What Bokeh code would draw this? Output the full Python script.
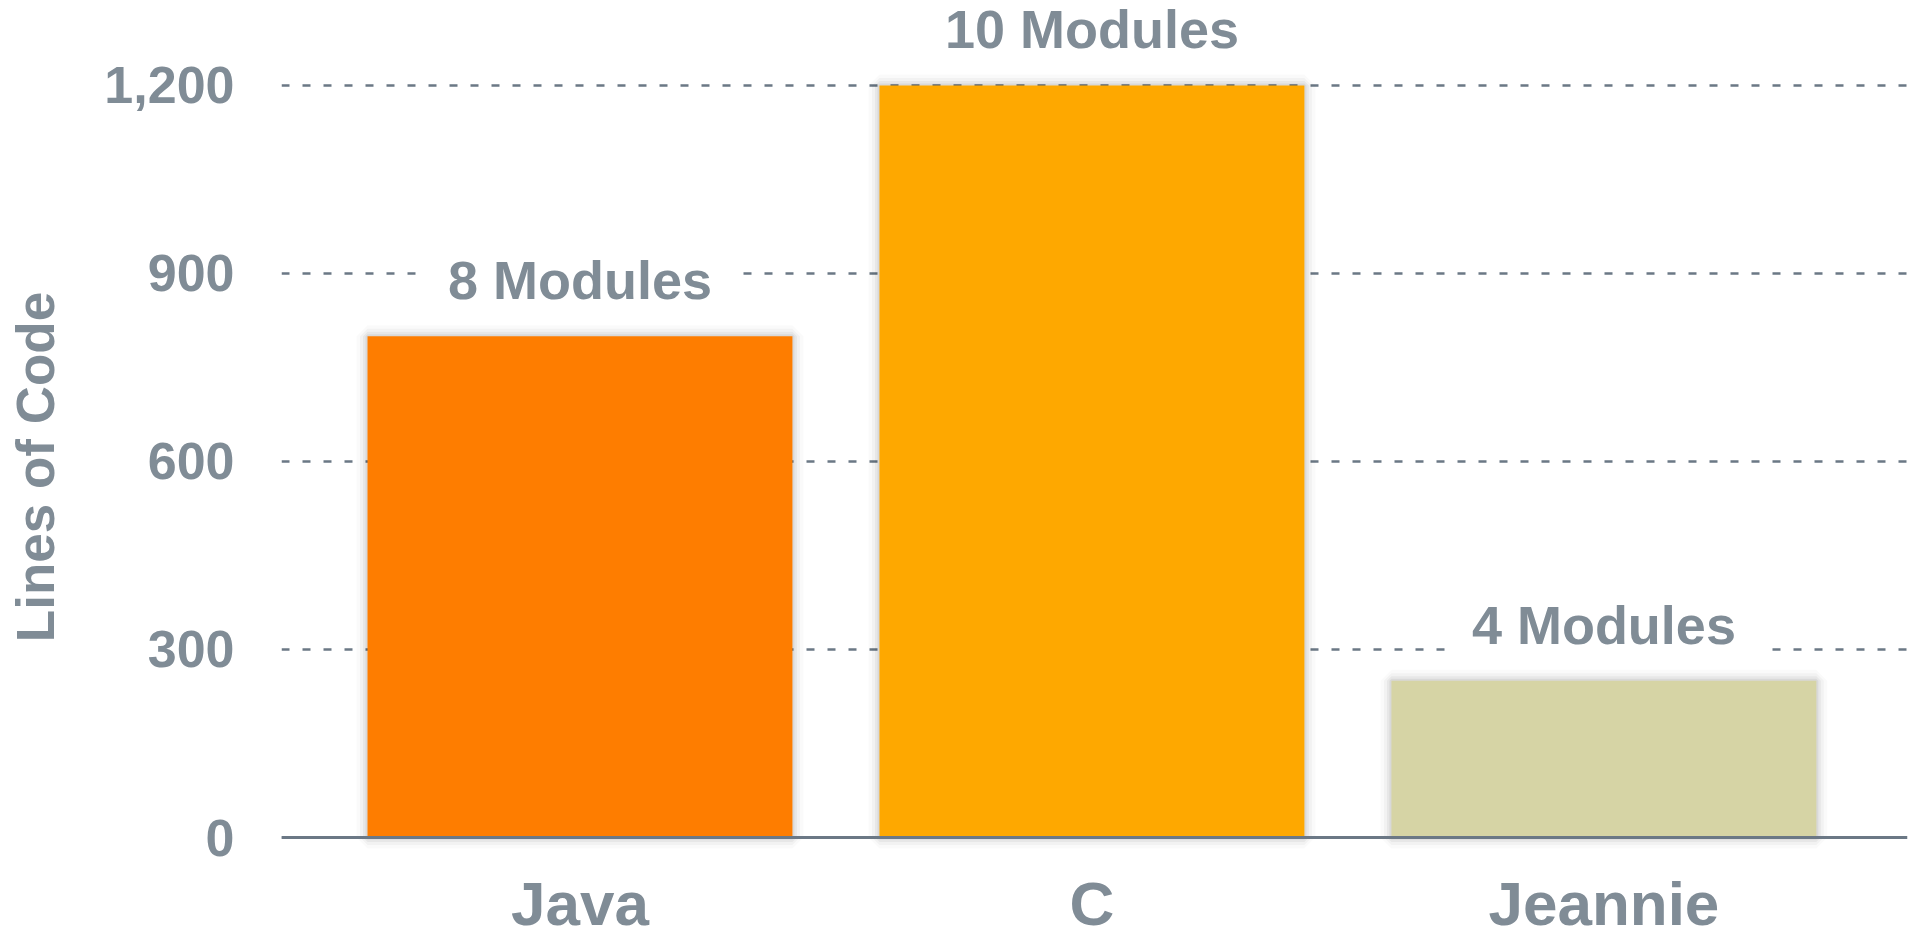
from bokeh.plotting import figure
from bokeh.models import (Range1d, FixedTicker, NumeralTickFormatter,
                          ColumnDataSource, Span)
from bokeh.core.properties import value
from bokeh.embed import file_html
from bokeh.resources import INLINE

# ---- data ----
categories = ["Java", "C", "Jeannie"]
lines_of_code = [800, 1200, 250]
module_labels = ["8 Modules", "10 Modules", "4 Modules"]
bar_colors = ["#FE7D00", "#FEA800", "#D6D4A5"]
y_ticks = [0, 300, 600, 900, 1200]

TEXT = "#808C96"
LINE = "#6B7885"
FONT = "Liberation Sans"

xs = list(range(len(categories)))
src = ColumnDataSource(dict(x=xs, top=lines_of_code, label=module_labels,
                            color=bar_colors, cat=categories,
                            base=[0] * len(categories)))

p = figure(width=1917, height=928, output_backend="svg", toolbar_location=None,
           x_range=Range1d(-0.583, 2.593), y_range=Range1d(-145.2, 1327.6),
           min_border_left=281, min_border_right=10, min_border_top=5,
           min_border_bottom=0)
p.outline_line_color = None
p.background_fill_color = "white"
p.border_fill_color = "white"

# soft shadow behind bars
for lw, a in [(22, 0.02), (15, 0.03), (9, 0.045), (4, 0.06)]:
    p.vbar(x="x", top="top", bottom=0, width=0.83, source=src,
           fill_color=None, line_color="black", line_alpha=a, line_width=lw)

p.vbar(x="x", top="top", bottom=0, width=0.83, source=src,
       fill_color="color", line_color=None)

# baseline (x axis line at zero)
p.add_layout(Span(location=0, dimension="width", line_color=LINE,
                  line_width=3))

# module labels (white box interrupts the grid lines)
p.text(x="x", y="top", text="label", source=src,
       text_align="center", text_baseline="alphabetic",
       y_offset=-56, text_font=value(FONT), text_font_style="bold",
       text_font_size="54px", text_color=TEXT,
       background_fill_color="white",
       padding=dict(left=26, right=26, top=0, bottom=0))

# category labels under the zero line
p.text(x="x", y="base", text="cat", source=src,
       text_align="center", text_baseline="alphabetic",
       y_offset=66, text_font=value(FONT), text_font_style="bold",
       text_font_size="62px", text_color=TEXT)

# y axis
p.yaxis.ticker = FixedTicker(ticks=y_ticks)
p.yaxis.formatter = NumeralTickFormatter(format="0,0")
p.yaxis.axis_line_color = None
p.yaxis.major_tick_line_color = None
p.yaxis.minor_tick_line_color = None
p.yaxis.major_label_standoff = 41
p.yaxis.major_label_text_font = FONT
p.yaxis.major_label_text_font_style = "bold"
p.yaxis.major_label_text_font_size = "52px"
p.yaxis.major_label_text_color = TEXT
p.yaxis.axis_label = "Lines of Code"
p.yaxis.axis_label_standoff = 36
p.yaxis.axis_label_text_font = FONT
p.yaxis.axis_label_text_font_style = "bold"
p.yaxis.axis_label_text_font_size = "53px"
p.yaxis.axis_label_text_color = TEXT

p.xaxis.visible = False

# grid
p.xgrid.grid_line_color = None
p.ygrid.grid_line_color = LINE
p.ygrid.grid_line_width = 2.6
p.ygrid.grid_line_dash = "8 13"
p.ygrid.level = "underlay"

open("out.html", "w").write(file_html(p, INLINE))
